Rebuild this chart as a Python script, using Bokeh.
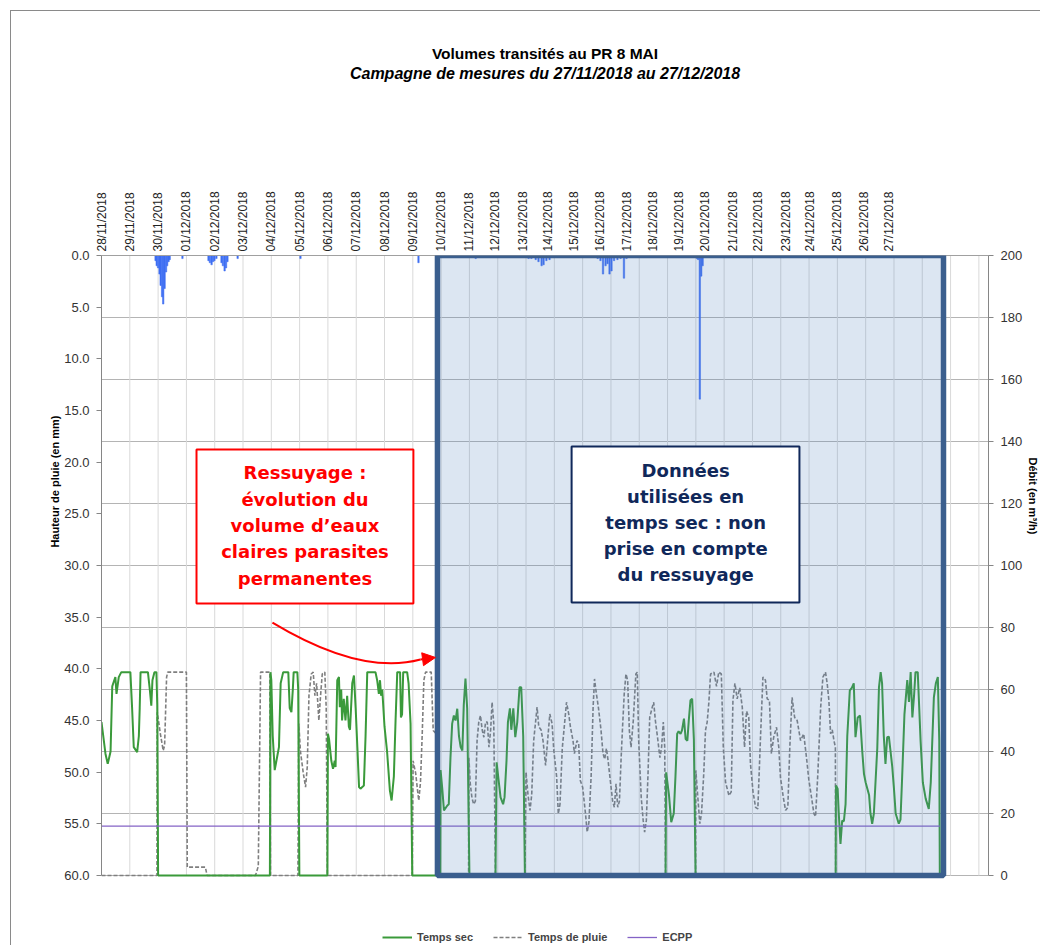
import math
from bokeh.plotting import figure
from bokeh.models import (Range1d, LinearAxis, FixedTicker, Grid, PrintfTickFormatter,
                          CustomJSTickFormatter, BoxAnnotation, Label, Legend, LegendItem,
                          Arrow, NormalHead, Title)
from bokeh.embed import file_html
from bokeh.resources import INLINE

# ---------------- data ----------------
day_labels = ["28/11/2018", "29/11/2018", "30/11/2018"] + ["%02d/12/2018" % d for d in range(1, 28)]
label_pos = [0, 1, 2, 3, 4, 5, 6, 7, 8, 9, 10, 11, 12,
             12.97, 13.92, 14.88, 15.76, 16.68, 17.63, 18.55, 19.47, 20.39,
             21.34, 22.30, 23.20, 24.17, 25.05, 25.97, 26.93, 27.81]
grid_days = list(range(1, 32))
rain_ticks = [0, 5, 10, 15, 20, 25, 30, 35, 40, 45, 50, 55, 60]
flow_ticks = list(range(0, 201, 20))

rain_day = [1.91, 1.95, 2.00, 2.05, 2.09, 2.14, 2.18, 2.23, 2.28, 2.32, 2.37, 2.41,
            2.86,
            3.78, 3.83, 3.89, 3.94, 3.99, 4.06,
            4.24, 4.29, 4.35, 4.40, 4.45,
            4.81, 7.03, 11.20, 13.22,
            15.09, 15.19, 15.34, 15.44, 15.55, 15.62, 15.72, 15.83,
            17.53, 17.63, 17.72, 17.81, 17.88, 17.95, 18.02, 18.11, 18.23, 18.34, 18.46, 18.55,
            21.04, 21.08, 21.14, 21.19, 21.24,
            22.23, 22.83, 23.64, 24.10, 25.40]
rain_mm = [0.5, 1.0, 1.2, 1.8, 2.9, 4.0, 4.7, 3.2, 1.6, 1.0, 0.6, 0.4,
           0.3,
           0.5, 0.7, 0.9, 0.6, 0.5, 0.3,
           0.7, 1.0, 1.5, 1.2, 0.6,
           0.3, 0.3, 0.7, 0.3,
           0.3, 0.3, 0.4, 0.6, 1.0, 0.9, 0.5, 0.4,
           0.3, 0.5, 1.8, 1.0, 0.8, 1.8, 1.5, 0.5, 0.4, 0.3, 2.2, 0.3,
           0.3, 0.4, 13.9, 2.0, 1.0,
           0.2, 0.2, 0.2, 0.2, 0.1]

dry_day = [0.00, 0.14, 0.22, 0.32, 0.38, 0.43, 0.49, 0.53, 0.61, 0.70, 1.02, 1.08, 1.14, 1.26, 1.32,
           1.35, 1.38, 1.64, 1.71, 1.76, 1.80, 1.87, 1.94, 1.97, 2.00,
           5.95, 5.97, 6.00, 6.05, 6.12, 6.20, 6.27, 6.33, 6.42, 6.60, 6.65, 6.71, 6.76, 6.79, 6.92, 6.95, 6.99,
           7.98, 8.00, 8.04, 8.12, 8.18, 8.24, 8.27, 8.33, 8.39, 8.42, 8.47, 8.50, 8.56, 8.62, 8.68, 8.74,
           8.78, 8.86, 8.92, 8.98, 9.04, 9.10, 9.15, 9.27, 9.33, 9.39, 9.68, 9.74, 9.80, 9.84, 9.88, 9.92,
           10.00, 10.09, 10.19, 10.25, 10.33, 10.39, 10.45, 10.55, 10.58, 10.62, 10.66, 10.80, 10.85, 10.92, 10.98,
           11.97, 11.98, 12.04, 12.10, 12.22, 12.27, 12.33, 12.39, 12.45, 12.51, 12.57, 12.63, 12.69, 12.75,
           12.80, 12.86, 12.92, 12.97, 13.00,
           13.92, 13.96, 14.04, 14.10, 14.19, 14.24, 14.31, 14.36, 14.43, 14.48, 14.55, 14.62, 14.69, 14.77,
           14.83, 14.90, 14.96,
           19.93, 19.95, 20.05, 20.13, 20.22, 20.28, 20.34, 20.39, 20.46, 20.51, 20.58, 20.64, 20.70, 20.75,
           20.81, 20.87, 20.93, 20.99,
           25.94, 25.95, 26.01, 26.05, 26.11, 26.17, 26.23, 26.29, 26.35, 26.44, 26.51, 26.58, 26.64, 26.72,
           26.80, 26.88, 26.94, 27.00, 27.06, 27.12, 27.17, 27.23, 27.29, 27.41, 27.47, 27.53, 27.58, 27.64,
           27.70, 27.76, 27.82, 27.88, 27.94, 28.00, 28.06, 28.17, 28.23, 28.29, 28.37, 28.47, 28.53, 28.59,
           28.65, 28.71, 28.76, 28.84, 28.94, 29.02, 29.12, 29.23, 29.30, 29.41, 29.48, 29.55, 29.60, 29.62]
dry_flow = [49.5, 39.3, 36, 40, 61, 62.4, 64, 58.6, 64, 65.6, 65.6, 54.3, 41.4, 39.8, 45,
            54, 65.6, 65.6, 59.7, 54.8, 63, 65.6, 65.6, 55, 0,
            0, 65.6, 63, 45, 34, 38, 41.4, 62, 65.6, 65.6, 54, 52.7, 60, 65.6, 65.6, 60, 0,
            0, 45.7, 44, 37, 34.4, 37, 35, 63, 64, 54.3, 60, 50, 57, 50, 58, 48,
            47, 62, 64.5, 54, 41.4, 28.5, 28, 29, 45, 65.6, 65.6, 63, 58.6, 63, 58, 60,
            48, 40, 27.4, 24.2, 32, 50, 65.6, 65.6, 51, 52, 65.6, 65.6, 62, 49, 0,
            0, 34, 28, 21, 22.6, 23, 38, 49, 51.6, 50, 53.8, 45, 41.4, 40.3,
            55, 63.5, 54, 20, 0,
            0, 36.5, 30, 25.2, 23, 25.2, 37, 49.5, 53.9, 47, 53.9, 44.6, 49.5, 60.7,
            60.7, 45, 0,
            0, 33.3, 26, 17.2, 20, 32, 45.7, 46.5, 45.7, 46.8, 50.6, 44, 43.5, 50,
            56.5, 57, 44, 0,
            0, 29, 28, 20, 10.2, 17.7, 17.5, 23, 45, 59.7, 60.5, 62, 44.6, 51,
            51.6, 40, 32.8, 30, 28, 26, 20, 16.7, 20, 41, 60.7, 65.6, 62, 45,
            36, 44.6, 44.8, 40, 35, 28, 20, 16.7, 18, 32, 52, 63, 56, 65.6,
            51, 58, 65.6, 65.6, 43.5, 30, 24.8, 21.5, 30, 57.5, 62, 64, 43.5, 0]

wet_day = [0.00, 1.96, 1.97, 2.08, 2.18, 2.23, 2.30, 2.34, 3.00, 3.03, 3.67, 3.73, 5.44, 5.54, 5.62, 5.95, 5.97,
           6.94, 6.97, 7.03, 7.13, 7.21, 7.27, 7.33, 7.41, 7.48, 7.54, 7.60, 7.68, 7.74, 7.80, 7.89, 7.94, 7.98,
           10.98, 11.01, 11.10, 11.16, 11.21, 11.27, 11.33, 11.39, 11.45, 11.65, 11.72, 11.80, 11.90, 11.94,
           12.97, 12.98, 13.03, 13.09, 13.15, 13.21, 13.27, 13.33, 13.39, 13.45, 13.51, 13.57, 13.63, 13.69,
           13.75, 13.80, 13.86, 13.92,
           14.96, 15.00, 15.07, 15.14, 15.20, 15.27, 15.39, 15.45, 15.53, 15.60, 15.69, 15.74, 15.84, 15.92,
           15.98, 16.08, 16.14, 16.20, 16.28, 16.36, 16.43, 16.51, 16.57, 16.66, 16.71, 16.80, 16.86, 16.92,
           17.00, 17.10, 17.16, 17.22, 17.30, 17.37, 17.42, 17.48, 17.56, 17.65, 17.72, 17.78, 17.84, 17.90,
           17.99, 18.06, 18.12, 18.18, 18.24, 18.30, 18.36, 18.41, 18.47, 18.53, 18.59, 18.65, 18.71, 18.79,
           18.88, 18.93, 18.98, 19.07, 19.14, 19.19, 19.25, 19.31, 19.37, 19.46, 19.51, 19.57, 19.66, 19.73,
           19.79, 19.85, 19.90, 19.93,
           20.99, 21.00, 21.07, 21.14, 21.20, 21.28, 21.34, 21.40, 21.46, 21.52, 21.64, 21.73, 21.81, 21.90,
           21.97, 22.05, 22.17, 22.25, 22.31, 22.38, 22.46, 22.55, 22.64, 22.72, 22.79, 22.87, 22.93, 23.02,
           23.11, 23.19, 23.28, 23.37, 23.46, 23.52, 23.60, 23.67, 23.75, 23.85, 23.93, 23.99, 24.09, 24.17,
           24.25, 24.32, 24.40, 24.49, 24.58, 24.70, 24.81, 24.91, 24.99, 25.09, 25.17, 25.23, 25.31, 25.41,
           25.49, 25.58, 25.64, 25.70, 25.76, 25.82, 25.88, 25.93, 25.94, 29.62]
wet_flow = [0, 0, 52.7, 45.7, 40.3, 42, 64, 65.6, 65.6, 2.7, 2.7, 0, 0, 3, 65.6, 65.6, 0,
            0, 49, 40, 33, 28.5, 35, 58, 65, 65.6, 58, 62, 50, 58, 65, 65.6, 54, 0,
            0, 37, 33, 28, 24.2, 30, 45, 63, 65.6, 65.6, 46.8, 46, 45, 0,
            0, 38, 29.6, 25, 23, 24, 43.5, 49.5, 51.6, 47, 44.6, 49.5, 49.5, 41.4,
            47, 55.9, 49, 0,
            0, 33.3, 26, 21, 26, 43.5, 54.3, 48, 47, 43.5, 35.5, 41, 52.1, 49,
            40.5, 32, 19.9, 23, 41, 48.9, 55.9, 52, 47.8, 43.5, 39.3, 43.5, 42.5, 30.6,
            28.5, 20, 14, 17, 32, 54.3, 63.4, 59, 54, 46.8, 39.3, 37.5, 41, 37,
            29.6, 24, 22, 29.6, 22, 24, 38, 47.8, 58.7, 65, 63, 46.8, 41.4, 50,
            65, 65.6, 43.5, 25.2, 17.7, 14, 17.7, 32.8, 51, 54.3, 55.9, 50, 43.5, 38,
            41.4, 49.5, 41.4, 0,
            0, 33.9, 25.2, 16.7, 20, 33, 46.8, 49.5, 55.9, 65, 65.6, 61, 65.6, 65,
            41.4, 30, 25.8, 27, 56.5, 62, 57, 60.5, 54.3, 41.4, 53, 51, 36, 27,
            22, 21.5, 43.5, 64, 63, 57, 56.5, 39.3, 44.6, 47.8, 41.4, 31.6, 25.2, 21,
            22, 41.4, 57.5, 51, 50, 43.5, 45.7, 38, 31, 25, 20, 19, 32.8, 54.3,
            64, 65.6, 62, 56.5, 45.7, 47, 43.5, 41.4, 0, 0]

ecpp_flow = 15.9
dry_window = (11.87, 29.75)   # period used for dry weather (shaded box)

# ---------------- layout constants ----------------
FONT = "Liberation Sans"
FRAME_PLOT_H = 620           # height of the chart area
FRAME_EXTRA = 70             # extra frame room below the chart for the legend
RAIN_MAX, FLOW_MAX = 60, 200
rain_start = RAIN_MAX * (FRAME_PLOT_H + FRAME_EXTRA) / FRAME_PLOT_H
flow_start = -FLOW_MAX * FRAME_EXTRA / FRAME_PLOT_H

p = figure(width=1040, height=945, x_range=Range1d(0, 31.34), y_range=Range1d(rain_start, 0),
           x_axis_location="above", output_backend="svg", toolbar_location=None,
           title_location=None,
           min_border_left=101, min_border_right=52, min_border_top=255, min_border_bottom=0)
p.extra_y_ranges = {"flow": Range1d(flow_start, FLOW_MAX)}
p.outline_line_color = None
p.background_fill_color = "white"
p.border_fill_alpha = 0
p.styles = {"background": "linear-gradient(#8a8a8a,#8a8a8a) 10px 10px / 1px 100% no-repeat, "
                          "linear-gradient(#8a8a8a,#8a8a8a) 10px 10px / 100% 1px no-repeat, white"}


def blank_axis(ax):
    ax.ticker = FixedTicker(ticks=[])
    ax.axis_line_color = None
    ax.major_tick_line_color = None
    ax.minor_tick_line_color = None
    ax.major_tick_in = 0
    ax.major_tick_out = 0
    ax.minor_tick_in = 0
    ax.minor_tick_out = 0
    ax.major_label_standoff = 0
    ax.major_label_text_font_size = "0px"
    ax.axis_label_text_font = FONT
    ax.axis_label_text_color = "#000000"
    return ax


def side_title(text, align, offset):
    kw = dict(text=text, align=align, offset=offset, vertical_align="middle",
              text_font=FONT, text_font_style="bold", text_font_size="11px", text_color="#000000")
    if "standoff" in Title.properties():
        kw["standoff"] = 0
    return Title(**kw)


# top date axis
xa = p.xaxis[0]
xa.ticker = FixedTicker(ticks=label_pos)
xa.formatter = CustomJSTickFormatter(args=dict(pos=label_pos, lab=day_labels), code="""
let best = 0, d = 1e9;
for (let i = 0; i < pos.length; i++) { const e = Math.abs(pos[i] - tick); if (e < d) { d = e; best = i; } }
return lab[best];
""")
xa.major_label_orientation = "vertical"
xa.major_tick_in = 0
xa.major_tick_out = 0
xa.minor_tick_in = 0
xa.minor_tick_out = 0
xa.axis_line_color = "#a0a0a0"
xa.major_label_text_font = FONT
xa.major_label_text_font_size = "12px"
xa.major_label_text_color = "#222222"
xa.major_label_standoff = 4

# subtitle and title as labels of blank axes stacked above the date axis
sub_ax = blank_axis(LinearAxis())
sub_ax.axis_label = "Campagne de mesures du 27/11/2018 au 27/12/2018"
sub_ax.axis_label_text_font_style = "bold italic"
sub_ax.axis_label_text_font_size = "16px"
sub_ax.axis_label_standoff = 107
p.add_layout(sub_ax, "above")
tit_ax = blank_axis(LinearAxis())
tit_ax.axis_label = "Volumes transités au PR 8 MAI"
tit_ax.axis_label_text_font_style = "bold"
tit_ax.axis_label_text_font_size = "15.5px"
tit_ax.axis_label_standoff = 0
p.add_layout(tit_ax, "above")

# left rain axis
ya = p.yaxis[0]
ya.ticker = FixedTicker(ticks=rain_ticks)
ya.bounds = (0, RAIN_MAX)
ya.formatter = PrintfTickFormatter(format="%.1f")
ya.major_tick_out = 5
ya.major_tick_in = 0
ya.minor_tick_in = 0
ya.minor_tick_out = 0
ya.axis_line_color = "#868686"
ya.major_tick_line_color = "#868686"
ya.major_label_text_font = FONT
ya.major_label_text_font_size = "13px"
ya.major_label_text_color = "#333333"
ya.major_label_standoff = 7
p.add_layout(side_title("Hauteur de pluie (en  mm)", "right", 157), "left")

# right flow axis
ra = LinearAxis(y_range_name="flow", ticker=FixedTicker(ticks=flow_ticks), bounds=(0, FLOW_MAX))
ra.major_tick_out = 5
ra.major_tick_in = 0
ra.minor_tick_in = 0
ra.minor_tick_out = 0
ra.axis_line_color = "#868686"
ra.major_tick_line_color = "#868686"
ra.major_label_text_font = FONT
ra.major_label_text_font_size = "13px"
ra.major_label_text_color = "#333333"
ra.major_label_standoff = 7
p.add_layout(ra, "right")
p.add_layout(side_title("Débit (en m³/h)", "left", 202), "right")

# grids: vertical day lines limited to the chart area, horizontal lines on the flow scale
p.xgrid.visible = False
p.ygrid.visible = False
p.segment(x0=grid_days, x1=grid_days, y0=[0] * len(grid_days), y1=[RAIN_MAX] * len(grid_days),
          line_color="#d9d9d9", line_width=1)
hgrid = Grid(dimension=1, ticker=FixedTicker(ticks=flow_ticks[:-1]),
             y_range_name="flow", grid_line_color="#b4b4b4")
p.add_layout(hgrid)

# rain bars
p.vbar(x=rain_day, width=0.05, top=0, bottom=rain_mm, fill_color="#3f6ff3",
       line_color="#3f6ff3", line_width=0.5)

# flows
r_wet = p.line(wet_day, wet_flow, y_range_name="flow", line_color="#7f7f7f",
               line_width=1.6, line_dash="4 2")
r_dry = p.line(dry_day, dry_flow, y_range_name="flow", line_color="#3a9a3a", line_width=2)
r_ecpp = p.line([dry_day[0], dry_day[-1]], [ecpp_flow, ecpp_flow], y_range_name="flow",
                line_color="#8463c6", line_width=1.3)

# shaded dry-weather period
p.add_layout(BoxAnnotation(left=dry_window[0], right=dry_window[1], top=0, bottom=RAIN_MAX,
                           fill_color="#4f81bd", fill_alpha=0.2, line_color="#3a5e8e",
                           line_alpha=1, line_width=5.5))

# red note
p.add_layout(BoxAnnotation(left=3.357, right=11.02, top=18.77, bottom=33.68, fill_color="white",
                           fill_alpha=1, line_color="#ff0000", line_alpha=1, line_width=2))
p.add_layout(Label(x=7.19, y=26.13, text="Ressuyage :\névolution du\nvolume d\u2019eaux\nclaires parasites\npermanentes",
                   text_align="center", text_baseline="middle", text_font="DejaVu Sans",
                   text_font_style="bold", text_font_size="18px", text_color="#ff0000",
                   text_line_height=1.26))
# navy note
p.add_layout(BoxAnnotation(left=16.61, right=24.66, top=18.48, bottom=33.58, fill_color="white",
                           fill_alpha=1, line_color="#10285a", line_alpha=1, line_width=2))
p.add_layout(Label(x=20.64, y=25.84, text="Données\nutilisées en\ntemps sec : non\nprise en compte\ndu ressuyage",
                   text_align="center", text_baseline="middle", text_font="DejaVu Sans",
                   text_font_style="bold", text_font_size="18px", text_color="#10285a",
                   text_line_height=1.24))

# red curved arrow
p.quadratic(x0=[6.04], y0=[35.52], x1=[11.27], y1=[39.1], cx=[9.15], cy=[40.65],
            line_color="#ff0000", line_width=2)
p.add_layout(Arrow(end=NormalHead(size=13, fill_color="#ff0000", line_color="#ff0000"),
                   x_start=11.27, y_start=39.1, x_end=11.80, y_end=38.9,
                   line_color="#ff0000", line_width=2))

# legend, in the extra room at the bottom of the frame
legend = Legend(items=[LegendItem(label="Temps sec", renderers=[r_dry]),
                       LegendItem(label="Temps de pluie", renderers=[r_wet]),
                       LegendItem(label="ECPP", renderers=[r_ecpp])],
                location=(281, 1), orientation="horizontal", glyph_width=30, glyph_height=14,
                label_height=14, label_standoff=5, spacing=20, padding=0, margin=0,
                label_text_font=FONT, label_text_font_style="bold", label_text_font_size="11px",
                background_fill_alpha=0, border_line_alpha=0)
p.add_layout(legend)

open("out.html", "w").write(file_html(p, INLINE))
